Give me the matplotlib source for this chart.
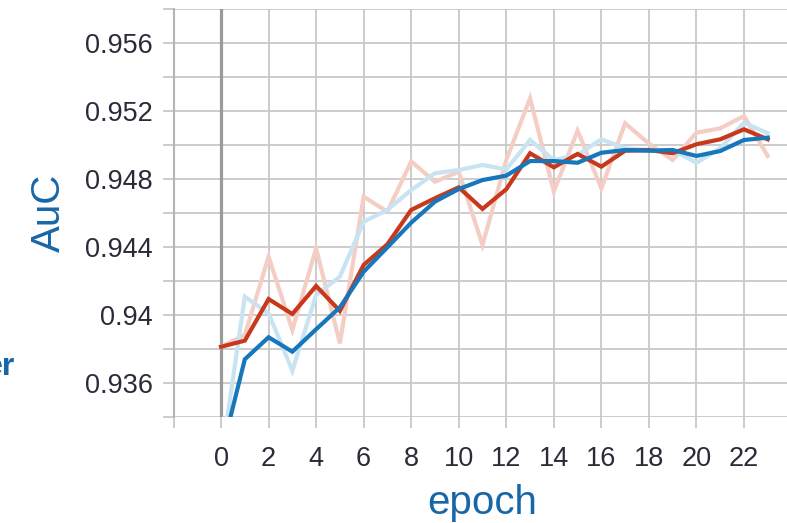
import matplotlib
matplotlib.use("Agg")
import matplotlib.pyplot as plt
from matplotlib.ticker import FixedLocator

plt.rcParams['font.family'] = ['Liberation Sans', 'DejaVu Sans']

epochs = list(range(24))
raw_red = [0.93812, 0.93881, 0.94343, 0.93911, 0.94392, 0.93832, 0.94696, 0.94608,
           0.94904, 0.94784, 0.94843, 0.94412, 0.94912, 0.95276, 0.94726, 0.95085,
           0.94746, 0.95128, 0.95009, 0.94912, 0.95073, 0.95099, 0.95171, 0.94936]
smooth_red = [0.93812, 0.93848, 0.94093, 0.94005, 0.94170, 0.94023, 0.94294, 0.94416,
              0.94618, 0.94687, 0.94751, 0.94624, 0.94740, 0.94952, 0.94869, 0.94948,
              0.94873, 0.94967, 0.94971, 0.94952, 0.95005, 0.95034, 0.95093, 0.95034]
raw_blue = [0.93140, 0.94107, 0.94009, 0.93671, 0.94117, 0.94225, 0.94549, 0.94618,
            0.94735, 0.94834, 0.94853, 0.94883, 0.94857, 0.95030, 0.94912, 0.94942,
            0.95034, 0.94981, 0.94971, 0.94971, 0.94896, 0.94981, 0.95132, 0.95070]
smooth_blue = [0.93175, 0.93738, 0.93868, 0.93783, 0.93915, 0.94044, 0.94254, 0.94398,
               0.94543, 0.94667, 0.94741, 0.94794, 0.94820, 0.94906, 0.94906, 0.94896,
               0.94955, 0.94971, 0.94967, 0.94971, 0.94936, 0.94965, 0.95030, 0.95044]

x_ticks = [-2, 0, 2, 4, 6, 8, 10, 12, 14, 16, 18, 20, 22]
x_tick_labels = ['', '0', '2', '4', '6', '8', '10', '12', '14', '16', '18', '20', '22']
y_major = [0.936, 0.94, 0.944, 0.948, 0.952, 0.956]
y_major_labels = ['0.936', '0.94', '0.944', '0.948', '0.952', '0.956']
y_minor = [0.934, 0.938, 0.942, 0.946, 0.950, 0.954, 0.958]

fig = plt.figure(figsize=(7.87, 5.23), dpi=100)
W, H = 787, 523
left_px, right_px, top_px, bot_px = 173.5, 791.5, 9.3, 416.7
ax = fig.add_axes([left_px / W, 1 - bot_px / H, (right_px - left_px) / W, (bot_px - top_px) / H])

ax.set_xlim(-2, 24)
ax.set_ylim(0.934, 0.958)

grid_color = '#c8c8c8'
ax.set_xticks(x_ticks)
ax.set_xticklabels(x_tick_labels)
ax.yaxis.set_major_locator(FixedLocator(y_major))
ax.set_yticklabels(y_major_labels)
ax.yaxis.set_minor_locator(FixedLocator(y_minor))

ax.grid(True, which='both', color=grid_color, linewidth=1.3, zorder=0)
ax.set_axisbelow(True)

for s in ['top', 'right', 'bottom']:
    ax.spines[s].set_visible(False)
ax.spines['left'].set_color('#b4b4b4')
ax.spines['left'].set_linewidth(1.5)

ax.tick_params(axis='both', which='both', length=8, width=1.3, color=grid_color,
               labelsize=19.5, labelcolor='#2b2b38')
ax.tick_params(axis='y', which='both', pad=7)
ax.tick_params(axis='x', which='both', pad=13)

ax.axvline(0, color='#9a9a9a', linewidth=2.3, zorder=1)

ax.plot(epochs, raw_red, color='#f4cec5', linewidth=3.0, zorder=2, solid_joinstyle='miter')
ax.plot(epochs, raw_blue, color='#c8e3f2', linewidth=3.0, zorder=2, solid_joinstyle='miter')
ax.plot(epochs, smooth_red, color='#c8381b', linewidth=3.0, zorder=3, solid_joinstyle='miter')
ax.plot(epochs, smooth_blue, color='#1677bb', linewidth=3.0, zorder=4, solid_joinstyle='miter')

ax.set_xlabel('epoch', fontsize=29, color='#1767a8', labelpad=9)
ax.set_ylabel('AuC', fontsize=29, color='#1767a8', labelpad=12)

fig.text(15.5 / W, 1 - 375 / H, 'er', fontsize=23, fontweight='bold', color='#1767a8',
         ha='right', va='baseline')

fig.savefig('out.png', dpi=100)
